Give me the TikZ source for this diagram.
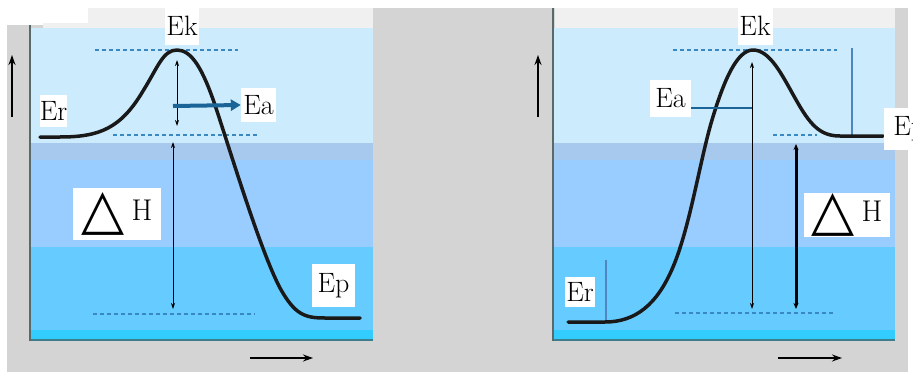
\documentclass[tikz,border=0pt]{standalone}
\usepackage{fontspec}
\newfontfamily\djv{DejaVu Sans}
\usetikzlibrary{arrows.meta}
\definecolor{bggray}{HTML}{D4D4D4}
\definecolor{topgray}{HTML}{F0F0F0}
\definecolor{bandA}{HTML}{CCEBFC}
\definecolor{bandB}{HTML}{A8C9EE}
\definecolor{bandC}{HTML}{99CCFF}
\definecolor{bandD}{HTML}{66CCFF}
\definecolor{bandE}{HTML}{33CCFF}
\definecolor{dashblue}{HTML}{3A88C2}
\definecolor{eablue}{HTML}{1B6497}
\definecolor{axisgray}{HTML}{5A6A6A}
\definecolor{baseteal}{HTML}{3C7E8C}
\definecolor{markblue}{HTML}{4F86C0}
\newcommand{\dHtext}{\raisebox{-8pt}{\djv\fontsize{56}{56}\selectfont △}\hspace{7pt}{\fontsize{30}{32}\selectfont H}}
\begin{document}
\begin{tikzpicture}[x=1pt,y=-1pt,
 lbl/.style={fill=white, inner sep=0pt, font=\fontsize{28}{32}\selectfont},
 lvl/.style={dashblue, line width=2pt, dash pattern=on 4pt off 3pt},
 curve/.style={line width=3.5pt, black!90, line cap=round, line join=round},
 dimarrow/.style={line width=0.9pt, {Stealth[length=6pt,width=4pt]}-{Stealth[length=6pt,width=4pt]}},
 axisarrow/.style={line width=1.5pt, -{Stealth[length=10pt,width=7pt]}},
 frameline/.style={line width=2pt},
]
\useasboundingbox (0,0) rectangle (913,372);
\clip (0,0) rectangle (913,372);
\fill[white] (0,0) rectangle (913,372);
\fill[bggray] (7,25) rectangle (908,372);
\fill[bggray] (373,8) rectangle (908,25);
\fill[topgray] (88,8) rectangle (373,28);
\fill[topgray] (43,23) rectangle (88,28);
\fill[topgray] (555,8) rectangle (895,28);
\foreach \a/\b in {30/373,553/895}{
 \fill[bandA] (\a,28) rectangle (\b,143);
 \fill[bandB] (\a,143) rectangle (\b,160);
 \fill[bandC] (\a,160) rectangle (\b,247);
 \fill[bandD] (\a,247) rectangle (\b,330);
 \fill[bandE] (\a,330) rectangle (\b,340);
 \draw[frameline, baseteal] (\a,340) -- (\b,340);
}
\draw[frameline, axisgray] (30,25) -- (30,341);
\draw[frameline, axisgray] (553,8) -- (553,341);

% ---------- left panel ----------
\draw[lvl] (95,50) -- (238,50);
\draw[lvl] (113,135) -- (257,135);
\draw[lvl] (93,314) -- (255,314);
\draw[curve] (40,137) -- (60,137) .. controls (100,137) and (121,128) .. (143,91)
  .. controls (158,67) and (163,50) .. (177,50)
  .. controls (192,50) and (203,70) .. (215,105)
  .. controls (230,150) and (260,250) .. (280,288)
  .. controls (295,315) and (305,318) .. (325,318) -- (360,318);
\coordinate (la1) at (177,60); \coordinate (la2) at (177,126);
\draw[dimarrow] (la1) -- (la2);
\coordinate (lh1) at (173,142); \coordinate (lh2) at (173,309);
\draw[dimarrow] (lh1) -- (lh2);
\node[lbl, minimum width=35pt, minimum height=34pt] (lEa) at (258.5,105) {Ea};
\coordinate (lEaS) at (173,106);
\draw[eablue, line width=4pt, -{Triangle[length=10pt,width=11pt]}] (lEaS) -- (lEa.west);
\node[lbl, minimum width=34pt, minimum height=37pt] (lEk) at (182,26) {Ek};
\node[lbl, minimum width=27pt, minimum height=32pt] (lEr) at (53.5,111) {Er};
\node[lbl, minimum width=43pt, minimum height=43pt] (lEp) at (333.5,285.5) {Ep};
\node[lbl, minimum width=88pt, minimum height=52pt] (lH) at (117,214) {\dHtext};
\coordinate (ly1) at (12,117); \coordinate (ly2) at (12,55);
\draw[axisarrow] (ly1) -- (ly2);
\coordinate (lx1) at (250,358); \coordinate (lx2) at (313,358);
\draw[axisarrow] (lx1) -- (lx2);

% ---------- right panel ----------
\draw[lvl] (673,50) -- (837,50);
\draw[lvl] (773,135) -- (817,135);
\draw[lvl] (675,313) -- (833,313);
\coordinate (rm1) at (852,48); \coordinate (rm2) at (852,135);
\draw[markblue, line width=2pt] (rm1) -- (rm2);
\coordinate (rm3) at (606,260); \coordinate (rm4) at (606,321);
\draw[markblue, line width=2pt] (rm3) -- (rm4);
\draw[curve] (568,322) -- (605,322) .. controls (635,322) and (657,305) .. (673,267)
  .. controls (690,227) and (700,160) .. (712,120)
  .. controls (724,80) and (737,50) .. (753,50)
  .. controls (770,50) and (782,75) .. (795,98)
  .. controls (810,125) and (820,136) .. (840,136) -- (883,136);
\coordinate (ra1) at (752,62); \coordinate (ra2) at (752,309);
\draw[dimarrow] (ra1) -- (ra2);
\coordinate (rh1) at (796,144); \coordinate (rh2) at (796,309);
\draw[line width=3pt, {Stealth[length=6pt,width=5pt]}-{Stealth[length=6pt,width=5pt]}] (rh1) -- (rh2);
\node[lbl, minimum width=41pt, minimum height=37pt] (rEa) at (670.5,98.5) {Ea};
\coordinate (rEaE) at (752,108);
\draw[eablue, line width=1.8pt] (rEa.east |- rEaE) -- (rEaE);
\node[lbl, minimum width=35pt, minimum height=37pt] (rEk) at (755,26) {Ek};
\node[lbl, minimum width=30pt, minimum height=30pt] (rEr) at (580,292) {Er};
\node[lbl, minimum width=46pt, minimum height=42pt, anchor=west] (rEp) at (884,129) {\hspace{4pt}Ep};
\node[lbl, minimum width=86pt, minimum height=44pt] (rH) at (847,215) {\dHtext};
\coordinate (ry1) at (538,117); \coordinate (ry2) at (538,55);
\draw[axisarrow] (ry1) -- (ry2);
\coordinate (rx1) at (778,358); \coordinate (rx2) at (842,358);
\draw[axisarrow] (rx1) -- (rx2);
\end{tikzpicture}
\end{document}
